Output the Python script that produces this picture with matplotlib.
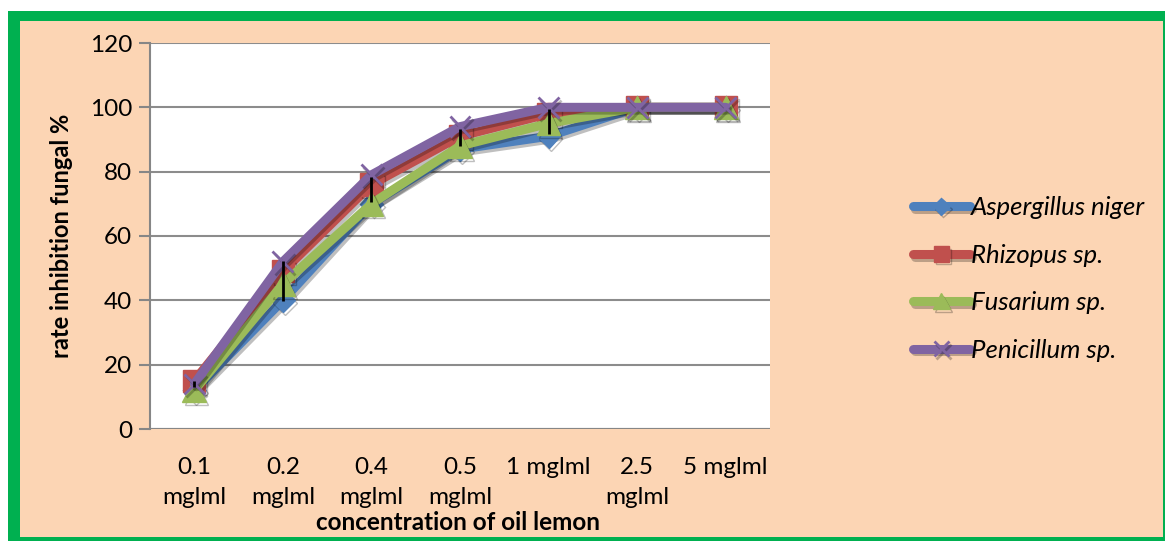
import matplotlib.pyplot as plt
import matplotlib.patheffects as pe
from matplotlib.patches import Rectangle

plt.rcParams['font.family'] = ['Lato', 'DejaVu Sans']

# data
concentrations = ["0.1\nmglml", "0.2\nmglml", "0.4\nmglml", "0.5\nmglml",
                  "1 mglml", "2.5\nmglml", "5 mglml"]
aspergillus = [12, 40, 70, 87, 91, 100, 100]
rhizopus = [15, 49, 76, 91, 98, 100, 100]
fusarium = [12, 45, 70, 88, 95, 100, 100]
penicillum = [14, 52, 79, 94, 100, 100, 100]
err_mid = [14, 46, 74.5, 90.7, 95.6, 100, 100]
err_half = [1, 6.3, 3.9, 2.7, 3.9, 0, 0]

series = [
    ("Aspergillus niger", aspergillus, "#4F81BD", "D", 12),
    ("Rhizopus sp.", rhizopus, "#C0504D", "s", 16),
    ("Fusarium sp.", fusarium, "#9BBB59", "^", 17),
    ("Penicillum sp.", penicillum, "#8064A2", "x", 15),
]

bg = "#FCD5B4"
fig = plt.figure(figsize=(11.65, 5.41), dpi=100)
fig.patch.set_facecolor("white")
# green frame + peach panel
fig.patches.append(Rectangle((8 / 1165, 0), 1 - 8 / 1165, 1 - 11 / 541,
                             transform=fig.transFigure, facecolor="#00B050",
                             edgecolor="none", zorder=-2))
fig.patches.append(Rectangle((20 / 1165, 4 / 541), (1163 - 20) / 1165, (537 - 21) / 541,
                             transform=fig.transFigure, facecolor=bg,
                             edgecolor="none", zorder=-1))

ax = fig.add_axes([150 / 1165, 1 - 429 / 541, (770 - 150) / 1165, (429 - 43) / 541])
ax.set_facecolor("white")

x = list(range(len(concentrations)))
shadow = [pe.SimpleLineShadow(offset=(1.5, -2), shadow_color="black", alpha=0.25), pe.Normal()]
for i, (name, vals, col, mk, ms) in enumerate(series):
    ax.plot(x, vals, color=col, lw=6.5, marker=mk, markersize=ms,
            markeredgecolor=col, markeredgewidth=2 if mk == "x" else 1,
            solid_capstyle="round", label=name, zorder=3 + i,
            path_effects=shadow)

ax.errorbar(x, err_mid, yerr=err_half, fmt="none", ecolor="black",
            elinewidth=2, capsize=0, zorder=10)

ax.set_xlim(-0.5, 6.5)
ax.set_ylim(0, 120)
ax.set_yticks(range(0, 121, 20))
ax.set_xticks(x)
ax.set_xticklabels(concentrations, fontsize=17.5, linespacing=1.55)
ax.tick_params(axis="y", labelsize=17.5, length=8, width=1.5, color="#868686", pad=5)
ax.tick_params(axis="x", length=0, pad=20)
ax.yaxis.grid(True, color="#8C8C8C", lw=1.5)
ax.set_axisbelow(True)
for side in ["top", "right", "bottom"]:
    ax.spines[side].set_visible(False)
ax.spines["left"].set_color("#868686")
ax.spines["left"].set_linewidth(1.5)
ax.axhline(0, color="#868686", lw=1.5, zorder=2)

ax.set_ylabel("rate inhibition fungal %", fontsize=17, fontweight="bold", labelpad=12)
fig.text(458 / 1165, 1 - 522 / 541, "concentration of oil lemon", ha="center",
         va="center", fontsize=17.5, fontweight="bold")

handles, labels = ax.get_legend_handles_labels()
leg = fig.legend(handles, labels, loc="center left",
                 bbox_to_anchor=(890 / 1165, 1 - 279 / 541), frameon=False,
                 prop={"style": "italic", "size": 18.5}, handlelength=2.2,
                 handletextpad=0.05, labelspacing=0.95, markerscale=0.7)

fig.savefig("out.png", dpi=100, facecolor=fig.get_facecolor())
